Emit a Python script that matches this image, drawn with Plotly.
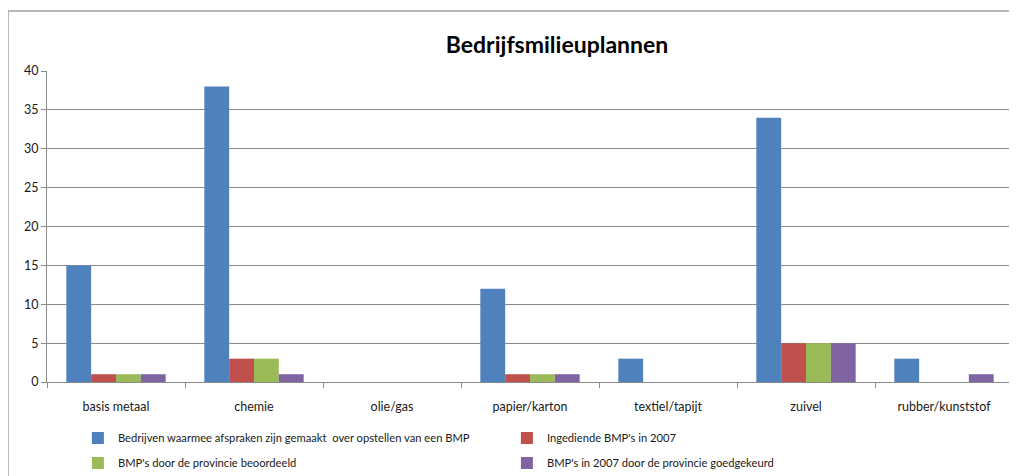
import plotly.graph_objects as go

categories = ["basis metaal", "chemie", "olie/gas", "papier/karton", "textiel/tapijt", "zuivel", "rubber/kunststof"]
afspraken = [15, 38, 0, 12, 3, 34, 3]
ingediend = [1, 3, 0, 1, 0, 5, 0]
beoordeeld = [1, 3, 0, 1, 0, 5, 0]
goedgekeurd = [1, 1, 0, 1, 0, 5, 1]

series = [
    ("Bedrijven waarmee afspraken zijn gemaakt  over opstellen van een BMP", afspraken, "#4F81BD", "legend"),
    ("Ingediende BMP's in 2007", ingediend, "#C0504D", "legend"),
    ("BMP's door de provincie beoordeeld", beoordeeld, "#9BBB59", "legend2"),
    ("BMP's in 2007 door de provincie goedgekeurd", goedgekeurd, "#8064A2", "legend2"),
]

FONT = "Lato, Arial, sans-serif"
GRID = "#8a8a8a"
H = 476

fig = go.Figure()
for name, vals, color, leg in series:
    fig.add_trace(go.Bar(x=categories, y=vals, name=name, marker_color=color,
                         marker_line_width=0, legend=leg))

legend_style = dict(
    orientation="h", xanchor="left", yanchor="middle", x=0.032,
    xref="paper", yref="container",
    entrywidth=384, entrywidthmode="pixels",
    font=dict(family=FONT, size=11.2, color="#1a1a1a"),
    itemwidth=30, bgcolor="rgba(0,0,0,0)",
)

# page has an 8px body margin, so figure coords = page coords - 8
fig.update_layout(
    width=1017,
    height=H,
    margin=dict(l=39, r=12, t=63, b=102, autoexpand=False),
    paper_bgcolor="white",
    plot_bgcolor="white",
    barmode="group",
    bargap=0.28,
    bargroupgap=0,
    font=dict(family=FONT, size=12.5, color="#1a1a1a"),
    title=dict(text="<b>Bedrijfsmilieuplannen</b>", x=0.528, xref="paper", xanchor="center",
               y=1 - 37 / H, yanchor="middle", font=dict(family=FONT, size=23, color="black")),
    legend=dict(legend_style, y=1 - 430 / H),
    legend2=dict(legend_style, y=1 - 455 / H),
    shapes=[dict(type="rect", xref="paper", yref="paper", x0=-0.0404, x1=1.05, y0=-0.5, y1=1.193,
                 line=dict(color="#a0a0a0", width=1.5), fillcolor="rgba(0,0,0,0)", layer="below")],
)
fig.update_yaxes(range=[0, 40], dtick=5, showgrid=True, gridcolor=GRID, gridwidth=1,
                 showline=True, linecolor=GRID, ticks="outside", ticklen=5, tickcolor=GRID,
                 zeroline=False, automargin=False, tickfont=dict(size=12.5))
fig.update_xaxes(showline=True, linecolor=GRID, ticks="outside", ticklen=5, tickcolor=GRID,
                 tickson="boundaries", ticklabelstandoff=13, automargin=False,
                 tickfont=dict(size=12.5))

fig.write_html("out.html")
